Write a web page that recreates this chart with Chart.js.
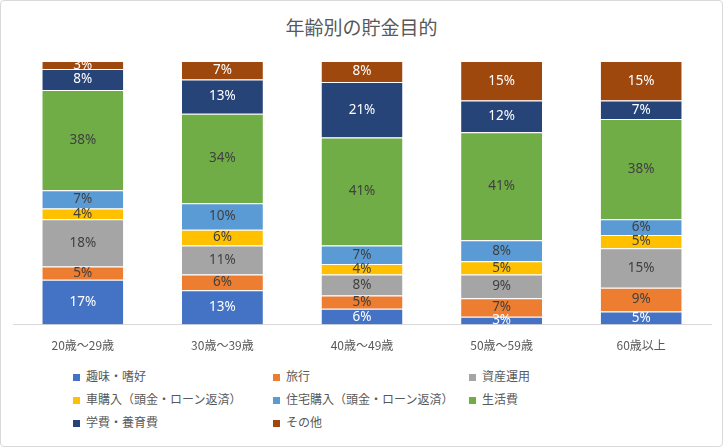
<!DOCTYPE html>
<html><head><meta charset="utf-8">
<script src="https://cdn.jsdelivr.net/npm/chart.js@4"></script>
<style>
body{margin:0;background:#fff;font-family:"Noto Sans CJK JP","Noto Sans",sans-serif;}
#wrap{position:absolute;left:0;top:0;width:721px;height:445px;border:1px solid #d9d9d9;border-radius:4px;}
#title{position:absolute;top:12px;width:100%;text-align:center;font-size:19px;color:#595959;}
#cv{position:absolute;left:12px;top:50px;width:708px;height:308px;}
#legend{position:absolute;left:72px;top:366px;display:grid;grid-template-columns:200px 196px 200px;row-gap:6px;font-size:12px;color:#595959;}
#legend span i{display:inline-block;width:7px;height:7px;margin-right:6px;}
</style></head><body>
<div id="wrap">
<div id="title">年齢別の貯金目的</div>
<div id="cv"><canvas id="c"></canvas></div>
<div id="legend"></div>
</div>
<script>
const categories = ['20歳～29歳','30歳～39歳','40歳～49歳','50歳～59歳','60歳以上'];
const seriesNames = ['趣味・嗜好','旅行','資産運用','車購入（頭金・ローン返済）','住宅購入（頭金・ローン返済）','生活費','学費・養育費','その他'];
const hobby   = [17,13,6,3,5];
const travel  = [5,6,5,7,9];
const invest  = [18,11,8,9,15];
const car     = [4,6,4,5,5];
const house   = [7,10,7,8,6];
const living  = [38,34,41,41,38];
const school  = [8,13,21,12,7];
const other   = [3,7,8,15,15];
const colors = ['#4472C4','#ED7D31','#A5A5A5','#FFC000','#5B9BD5','#70AD47','#264478','#9E480E'];
const labelColors = ['#fff','#404040','#404040','#404040','#404040','#404040','#fff','#fff'];
const values = [hobby,travel,invest,car,house,living,school,other];

document.getElementById('legend').innerHTML = seriesNames.map((n,i)=>
  `<span><i style="background:${colors[i]}"></i>${n}</span>`).join('');

const labelPlugin = {
  id:'labels',
  afterDatasetsDraw(chart){
    const ctx = chart.ctx;
    ctx.save();
    ctx.font = '13.5px "Noto Sans", sans-serif';
    ctx.textAlign = 'center'; ctx.textBaseline = 'middle';
    chart.data.datasets.forEach((ds,di)=>{
      chart.getDatasetMeta(di).data.forEach((bar,i)=>{
        ctx.fillStyle = labelColors[di];
        ctx.fillText(ds.data[i]+'%', bar.x, (bar.y+bar.base)/2);
      });
    });
    ctx.restore();
  }
};

new Chart(document.getElementById('c'), {
  type:'bar',
  data:{
    labels:categories,
    datasets:values.map((v,i)=>({label:seriesNames[i],data:v,backgroundColor:colors[i],
      borderColor:'#fff',borderWidth:{top:1,bottom:0,left:0,right:0},borderSkipped:false,
      categoryPercentage:0.58,barPercentage:1}))
  },
  options:{
    responsive:true,maintainAspectRatio:false,animation:false,
    layout:{padding:{top:10,right:10}},
    plugins:{legend:{display:false},tooltip:{enabled:false}},
    scales:{
      x:{stacked:true,grid:{display:false},border:{color:'#d9d9d9'},
         ticks:{color:'#595959',padding:6,font:{size:12,family:'"Noto Sans CJK JP"'}}},
      y:{stacked:true,display:false,min:0,max:100}
    }
  },
  plugins:[labelPlugin]
});
</script>
</body></html>
